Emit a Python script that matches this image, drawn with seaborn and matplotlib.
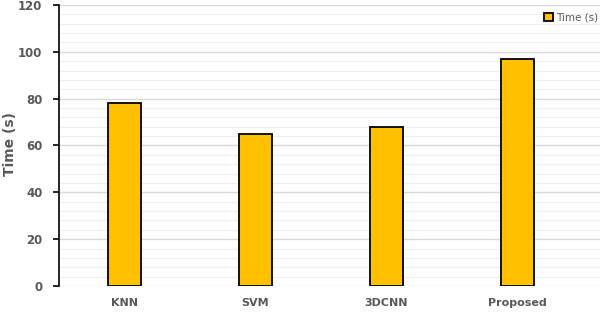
import pandas as pd
import matplotlib.pyplot as plt
import seaborn as sns
from matplotlib.ticker import MultipleLocator

# values
methods = ["KNN", "SVM", "3DCNN", "Proposed"]
times = [78, 65, 68, 97]

df = pd.DataFrame({"method": methods, "time": times})

sns.set_style("white")
plt.rcParams['font.family'] = ['DejaVu Sans']

text_grey = "#595959"

fig = plt.figure(figsize=(6.07, 3.14), dpi=100)
ax = fig.add_axes([0.0972, 0.0892, 0.891, 0.895])

sns.barplot(data=df, x="method", y="time", color="#FFC000", edgecolor="black",
            linewidth=1.3, width=0.25, saturation=1, label="Time (s)", ax=ax, zorder=3)

ax.set_ylim(0, 120)
ax.set_xlim(-0.5, 3.63)
ax.yaxis.set_major_locator(MultipleLocator(20))
ax.yaxis.set_minor_locator(MultipleLocator(4))
ax.grid(which="major", axis="y", color="#d9d9d9", linewidth=1.0, zorder=0)
ax.grid(which="minor", axis="y", color="#eeeeee", linewidth=0.8, zorder=0)
ax.set_axisbelow(True)

for side in ["top", "right", "bottom"]:
    ax.spines[side].set_visible(False)
ax.spines["left"].set_color("black")
ax.spines["left"].set_linewidth(1.2)

ax.tick_params(axis="y", which="major", left=True, length=4, width=1.2,
               color="black", labelsize=8.5, labelcolor=text_grey, pad=8)
ax.tick_params(axis="y", which="minor", left=False)
ax.tick_params(axis="x", bottom=False, labelsize=8, labelcolor=text_grey, pad=5)
for lbl in ax.get_xticklabels() + ax.get_yticklabels():
    lbl.set_fontweight("bold")

ax.set_xlabel("")
ax.set_ylabel("Time (s)", fontsize=10, fontweight="bold", color=text_grey)
ax.yaxis.set_label_coords(-0.077, 0.505)

leg = ax.legend(loc="upper right", bbox_to_anchor=(1.01, 1.0), frameon=False,
                fontsize=7.5, handlelength=0.8, handleheight=0.8, handletextpad=0.3,
                borderaxespad=0.3, labelcolor=text_grey)

fig.savefig("out.png", dpi=100)
